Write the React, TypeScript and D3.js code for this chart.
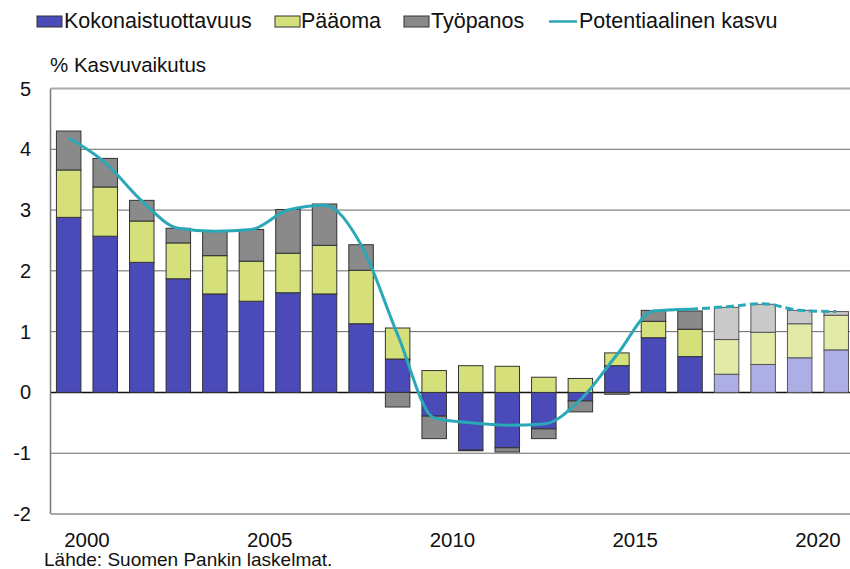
import React from "react";
import * as d3 from "d3";

const years = [1999, 2000, 2001, 2002, 2003, 2004, 2005, 2006, 2007, 2008, 2009, 2010, 2011, 2012, 2013, 2014, 2015, 2016, 2017, 2018, 2019, 2020];
const tfp = [2.88, 2.57, 2.14, 1.87, 1.62, 1.5, 1.64, 1.62, 1.13, 0.55, -0.39, -0.95, -0.91, -0.6, -0.14, 0.44, 0.9, 0.59, 0.3, 0.46, 0.57, 0.7];
const capital = [0.78, 0.81, 0.68, 0.59, 0.63, 0.66, 0.65, 0.8, 0.88, 0.51, 0.36, 0.44, 0.43, 0.25, 0.23, 0.21, 0.27, 0.45, 0.57, 0.53, 0.56, 0.57];
const labour = [0.64, 0.47, 0.34, 0.24, 0.4, 0.52, 0.72, 0.68, 0.42, -0.24, -0.37, -0.01, -0.07, -0.16, -0.18, -0.03, 0.18, 0.3, 0.53, 0.46, 0.22, 0.06];
const potential = [4.19, 3.78, 3.15, 2.7, 2.65, 2.68, 3.0, 3.08, 2.43, 0.95, -0.42, -0.5, -0.54, -0.52, -0.12, 0.62, 1.34, 1.37, 1.41, 1.46, 1.35, 1.33];
const projectionStart = 2017;
const dashStart = 2016;
const xTickYears = [2000, 2005, 2010, 2015, 2020];
const yTicks = [-2, -1, 0, 1, 2, 3, 4, 5];
const seriesNames = ["Kokonaistuottavuus", "Pääoma", "Työpanos"];
const lineName = "Potentiaalinen kasvu";
const yTitle = "% Kasvuvaikutus";
const source = "Lähde: Suomen Pankin laskelmat.";

const colors = ["#4a4ab8", "#d6e07a", "#8a8a8a"];
const lightColors = ["#aeaee6", "#e3e9a6", "#c9c9c9"];
const lineColor = "#2aa8b8";
const FONT = "'Liberation Sans', Arial, sans-serif";

export default function App() {
  const W = 850, H = 569;
  const x = d3.scaleBand<number>().domain(years).range([50.4, 854.5]).paddingInner(0.33).paddingOuter(0.165);
  const y = d3.scaleLinear().domain([-2, 5]).range([514, 88.5]);
  const step = x.step();
  const bw = x.bandwidth();

  const rows = years.map((yr, i) => ({ year: yr, k: tfp[i], p: capital[i], t: labour[i] }));
  const keys = ["k", "p", "t"];
  const stacked = d3.stack<any>().keys(keys).offset(d3.stackOffsetDiverging)(rows);

  const pts = years.map((yr, i) => [x(yr)! + bw / 2, y(potential[i])] as [number, number]);
  const line = d3.line<[number, number]>().curve(d3.curveMonotoneX);
  const di = years.indexOf(dashStart);
  const solidPath = line(pts.slice(0, di + 1)) || "";
  const dashPath = line(pts.slice(di)) || "";

  const legendItems = [
    { x: 37, tx: 64, label: seriesNames[0], color: colors[0] },
    { x: 275, tx: 301, label: seriesNames[1], color: colors[1] },
    { x: 404, tx: 431, label: seriesNames[2], color: colors[2] },
  ];

  return (
    <svg width={W} height={H} style={{ display: "block", position: "absolute", left: 0, top: 0, background: "#fff" }} fontFamily={FONT}>
      {yTicks.map((t) => (
        <line key={t} x1={51} x2={W} y1={y(t)} y2={y(t)} stroke={t === 0 ? "#111" : t === 5 || t === -2 ? "#aaa" : "#666"} strokeWidth={t === 0 ? 1.5 : t === 5 || t === -2 ? 2 : 1} />
      ))}
      <line x1={50.5} x2={50.5} y1={y(5)} y2={y(-2)} stroke="#777" strokeWidth={1.5} />
      {stacked.map((s, si) => (
        <g key={si}>
          {s.map((d, i) => {
            const proj = years[i] >= projectionStart;
            const y0 = y(d[0]), y1 = y(d[1]);
            const top = Math.min(y0, y1), h = Math.abs(y1 - y0);
            if (h < 0.01) return null;
            return (
              <rect key={i} x={x(years[i])} y={top} width={bw} height={h}
                fill={proj ? lightColors[si] : colors[si]} stroke={proj ? "#555" : "#333"} strokeWidth={1} />
            );
          })}
        </g>
      ))}
      <path d={solidPath} fill="none" stroke={lineColor} strokeWidth={3} />
      <path d={dashPath} fill="none" stroke={lineColor} strokeWidth={3} strokeDasharray="8,4" />
      {yTicks.map((t) => (
        <text key={t} x={31} y={y(t) + 7} textAnchor="end" fontSize={20} fill="#111">{t}</text>
      ))}
      {xTickYears.map((yr) => (
        <text key={yr} x={x(yr)! - (step - bw) / 2} y={547} textAnchor="middle" fontSize={20.5} fill="#111">{yr}</text>
      ))}
      <text x={50} y={72} fontSize={20.5} fill="#111">{yTitle}</text>
      <text x={44} y={566} fontSize={19} fill="#111">{source}</text>
      {legendItems.map((l, i) => (
        <g key={i}>
          <rect x={l.x} y={16} width={25} height={11} fill={l.color} stroke="#333" strokeWidth={1} />
          <text x={l.tx} y={28} fontSize={21.5} fill="#111">{l.label}</text>
        </g>
      ))}
      <line x1={549} x2={577} y1={21.5} y2={21.5} stroke={lineColor} strokeWidth={2.5} />
      <text x={579} y={28} fontSize={21.5} fill="#111">{lineName}</text>
    </svg>
  );
}
